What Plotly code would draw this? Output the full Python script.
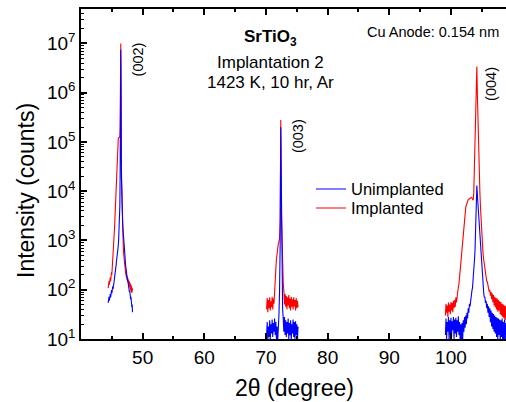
import plotly.graph_objects as go

FONT = "Liberation Sans, Arial, Helvetica, sans-serif"
BLUE = "#0000FF"
RED = "#FF0000"

# Scan segments: (start angle 2θ in degrees, step in degrees)
scan_002 = (44.40, 0.05)
scan_003 = (70.10, 0.10)
scan_004 = (99.10, 0.10)

# Counts, Unimplanted / Implanted, around the (002) reflection
unimplanted_002 = [
    54, 68, 56, 72, 60, 78, 64, 82, 70, 90, 76, 98, 84,
    106, 92, 118, 104, 132, 118, 148, 156, 180, 195, 225, 250, 290, 320, 370, 410, 470, 520, 600, 680,
    800, 1000, 1300, 1800, 2800, 5000, 25000, 900000, 7500000, 500000, 20000, 6000, 3800, 2900, 2300, 1800, 1400, 1100, 900, 700,
    560, 450, 380, 330, 300, 275, 225, 215, 180, 180, 150, 152, 126, 132, 106, 112, 90, 96, 76,
    84, 64, 72, 54, 60, 44, 50, 35,
]
implanted_002 = [
    108, 138, 116, 150, 126, 162, 138, 178, 150, 196, 170, 225, 200,
    250, 270, 330, 400, 520, 680, 950, 1300, 1900, 2700, 3800, 5500, 8000, 12000, 20000, 38000, 65000, 90000, 105000, 112000,
    118000, 122000, 125000, 126000, 124000, 128000, 200000, 2500000, 10000000, 1500000, 30000, 12000, 6000, 3500, 2000, 1200, 800, 580, 460,
    380, 330, 290, 268, 245, 205, 218, 180, 200, 162, 185, 150, 172, 138, 160, 126, 150, 116, 142, 106,
    134, 98, 126, 90, 118, 86, 108, 95,
]

# Counts around the (003) reflection
unimplanted_003 = [
    12, 22, 9, 18, 11, 24, 10, 20, 13, 25,
    11, 21, 14, 26, 12, 22, 10, 18, 9, 14,
    30, 90, 800, 200000, 2500, 150, 40, 26, 14, 28,
    12, 24, 11, 22, 13, 26, 10, 21, 12, 24,
    9, 20, 13, 25, 11, 22, 10, 23, 12, 20,
    9, 18,
]
implanted_003 = [
    40, 68, 35, 62, 42, 70, 38, 58, 44, 72,
    40, 66, 52, 110, 160, 260, 420, 600, 760, 850,
    950, 1100, 2500, 280000, 4000, 700, 300, 140, 95, 50,
    82, 45, 75, 40, 70, 48, 78, 42, 66, 38,
    72, 45, 64, 40, 70, 46, 62, 38, 68, 42,
    60, 44,
]

# Counts around the (004) reflection
unimplanted_004 = [
    12, 26, 10, 22, 14, 28, 9, 24, 12, 27,
    11, 23, 15, 28, 10, 25, 13, 27, 11, 24,
    14, 29, 12, 22, 9, 20, 8, 21, 9, 24,
    14, 28, 17, 30, 20, 34, 26, 42, 34, 52,
    46, 66, 70, 95, 110, 150, 230, 380, 600, 1400,
    4500, 13000, 8000, 5000, 3500, 2300, 1200, 650, 380, 230,
    150, 110, 92, 70, 72, 54, 60, 42, 52, 34,
    46, 28, 42, 22, 38, 18, 34, 16, 32, 14,
    30, 13, 28, 11, 27, 10, 26, 12, 25, 9,
    24, 11, 26, 8, 22, 10, 25, 9, 21, 12,
]
implanted_004 = [
    30, 52, 34, 48, 28, 55, 36, 50, 32, 56,
    38, 54, 35, 60, 42, 62, 45, 70, 55, 82,
    78, 115, 130, 180, 230, 330, 480, 720, 1050, 1550,
    2200, 3000, 3900, 4700, 5300, 5900, 6300, 6700, 6900, 7100,
    7300, 7400, 7500, 7300, 6900, 6600, 9000, 25000, 90000, 300000,
    1500000, 3400000, 800000, 200000, 60000, 20000, 9000, 4500, 2400, 1400,
    850, 560, 420, 320, 270, 210, 190, 150, 145, 115,
    118, 92, 100, 76, 90, 64, 84, 56, 78, 48,
    72, 44, 68, 40, 66, 36, 62, 38, 58, 32,
    56, 30, 52, 28, 50, 26, 48, 24, 46, 30,
]

x_tick_values = [50, 60, 70, 80, 90, 100]
x_minor_values = [45, 55, 65, 75, 85, 95, 105]
y_exponents = [1, 2, 3, 4, 5, 6, 7]


def angles(scan, n):
    start, step = scan
    return [round(start + i * step, 3) for i in range(n)]


def join(segments):
    """Concatenate scan segments, leaving gaps between them."""
    xs, ys = [], []
    for scan, vals in segments:
        if xs:
            xs.append(None)
            ys.append(None)
        xs += angles(scan, len(vals))
        ys += list(vals)
    return xs, ys


x_imp, y_imp = join([(scan_002, implanted_002), (scan_003, implanted_003), (scan_004, implanted_004)])
x_un, y_un = join([(scan_002, unimplanted_002), (scan_003, unimplanted_003), (scan_004, unimplanted_004)])

fig = go.Figure()
fig.add_trace(go.Scatter(x=x_imp, y=y_imp, mode="lines", name="Implanted",
                         line=dict(color=RED, width=1.1), connectgaps=False, legend="legend2"))
fig.add_trace(go.Scatter(x=x_un, y=y_un, mode="lines", name="Unimplanted",
                         line=dict(color=BLUE, width=1.1), connectgaps=False, legend="legend"))

W, H = 506, 402
L, T, B = 81, 9, 63


def px_x(px):
    return (px - L) / (W - L)


def px_y(py):
    return (H - B - py) / (H - B - T)


annotations = [
    dict(text="<b>SrTiO<sub>3</sub></b>", x=px_x(270), y=px_y(38), size=17),
    dict(text="Implantation 2", x=px_x(270), y=px_y(62), size=17),
    dict(text="1423 K, 10 hr, Ar", x=px_x(270), y=px_y(82), size=17),
    dict(text="Cu Anode: 0.154 nm", x=px_x(501), y=px_y(32), size=14.5, xanchor="right"),
    dict(text="2θ (degree)", x=px_x(294), y=px_y(388), size=23),
    dict(text="Intensity (counts)", x=px_x(26), y=px_y(190), size=23, textangle=-90),
]
for a in annotations:
    fig.add_annotation(
        text=a["text"], x=a["x"], y=a["y"], xref="paper", yref="paper",
        xanchor=a.get("xanchor", "center"), yanchor="middle", showarrow=False,
        textangle=a.get("textangle", 0), font=dict(size=a["size"], family=FONT, color="black"),
    )

# Reflection labels placed next to their peaks (data coordinates; y in log10 units)
for label, x, ylog in [("(002)", 49.2, 6.67), ("(003)", 75.2, 5.12), ("(004)", 106.5, 6.18)]:
    fig.add_annotation(text=label, x=x, y=ylog, xref="x", yref="y", showarrow=False,
                       textangle=-90, font=dict(size=14.5, family=FONT, color="black"))

fig.update_layout(
    width=W, height=H,
    margin=dict(l=L, r=0, t=T, b=B, autoexpand=False),
    paper_bgcolor="white", plot_bgcolor="white",
    font=dict(family=FONT, color="black"),
    showlegend=True,
    legend=dict(xref="container", yref="container", x=311 / W, y=1 - 189.3 / H,
                xanchor="left", yanchor="middle", bgcolor="rgba(0,0,0,0)", borderwidth=0,
                font=dict(size=16.5, family=FONT, color="black")),
    legend2=dict(xref="container", yref="container", x=311 / W, y=1 - 208.3 / H,
                 xanchor="left", yanchor="middle", bgcolor="rgba(0,0,0,0)", borderwidth=0,
                 font=dict(size=16.5, family=FONT, color="black")),
    xaxis=dict(
        range=[40, 108.93], tickmode="array", tickvals=x_tick_values,
        ticks="inside", ticklen=6, tickwidth=1.5, tickcolor="black",
        showline=True, linecolor="black", linewidth=1.5, mirror="allticks",
        showgrid=False, zeroline=False, tickfont=dict(size=19, family=FONT, color="black"),
        minor=dict(tickmode="array", tickvals=x_minor_values, ticks="inside", ticklen=3,
                   tickwidth=1.5, tickcolor="black", showgrid=False),
    ),
    yaxis=dict(
        type="log", range=[1, 7.70], tickmode="array",
        tickvals=[10 ** e for e in y_exponents],
        ticktext=[f"10<sup>{e}</sup>" for e in y_exponents],
        ticks="inside", ticklen=6, tickwidth=1.5, tickcolor="black",
        showline=True, linecolor="black", linewidth=1.5, mirror=False,
        showgrid=False, zeroline=False, tickfont=dict(size=19, family=FONT, color="black"),
        minor=dict(tickmode="array",
                   tickvals=[m * 10 ** e for e in range(1, 8) for m in range(2, 10)],
                   ticks="inside", ticklen=3, tickwidth=1, tickcolor="black", showgrid=False),
    ),
)

fig.write_html("out.html", config={"displayModeBar": False})
